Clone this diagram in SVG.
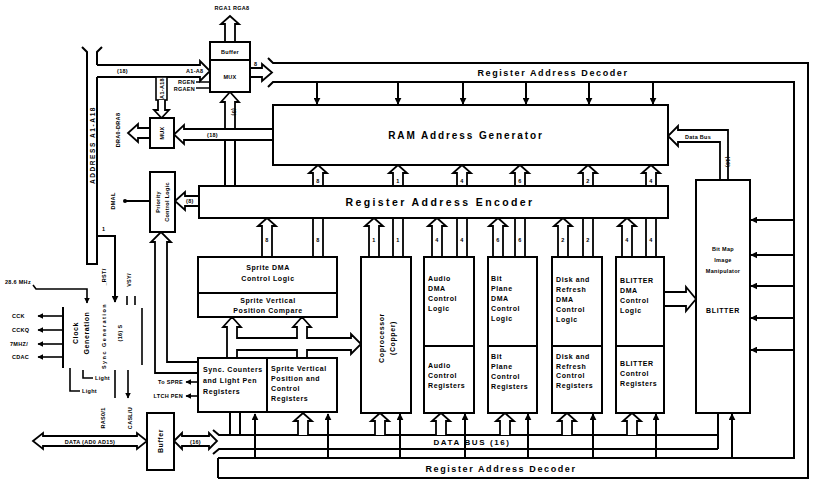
<svg xmlns="http://www.w3.org/2000/svg" width="814" height="481" viewBox="0 0 814 481">
<defs>
<style>
.bx{fill:#fff;stroke:#000;stroke-width:2}
.ln{fill:none;stroke:#000;stroke-width:2}
.ha{fill:#fff;stroke:#000;stroke-width:1.8}
.t{font-family:"Liberation Sans",Arial,sans-serif;font-weight:bold;fill:#000;font-size:7px;letter-spacing:0.6px}
.c{text-anchor:middle}
.e{text-anchor:end}
.big{font-size:10px;letter-spacing:1.6px}
.mid{font-size:9px;letter-spacing:1.6px}
.sm{font-size:5.5px;letter-spacing:0.3px}
</style>
<marker id="ah" viewBox="0 0 10 10" refX="9" refY="5" markerWidth="3.5" markerHeight="3.5" orient="auto-start-reverse"><path d="M0,0 L10,5 L0,10 z" fill="#000"/></marker>
</defs>
<rect width="814" height="481" fill="#fff"/>

<g id="connectors">
  <path class="ln" d="M268,58 L273,63 H808 V478 H218"/>
  <path class="ln" d="M268,87 L273,82 H794 V458 H218 M218,458 V478"/>
  <g class="ln" marker-end="url(#ah)">
    <path d="M317,82 V104"/><path d="M398,82 V104"/><path d="M463,82 V104"/>
    <path d="M526,82 V104"/><path d="M589,82 V104"/><path d="M653,82 V104"/>
  </g>
  <g class="ln" marker-end="url(#ah)">
    <path d="M794,220 H751"/><path d="M794,255 H751"/><path d="M794,286 H751"/>
    <path d="M794,318 H751"/><path d="M794,350 H751"/>
  </g>
  <path class="ln" d="M82,47 L87,52 V264 H97 V77 M97,65 V52 L102,47"/>
  <path class="ha" d="M97,65 H200 V61 L210,71 L200,81 V77 H97"/>
  <text class="t sm" x="117" y="73">(18)</text>
  <text class="t sm" x="186" y="73">A1-A8</text>
  <text class="t c" transform="translate(94.5,145) rotate(-90)" style="font-size:6.5px;letter-spacing:1.6px">ADDRESS A1-A18</text>
  <path class="ln" d="M97,236 H115 V302" marker-end="url(#ah)"/>
  <text class="t sm" x="102" y="231">1</text>
  <rect class="bx" x="156" y="77" width="11" height="23" style="stroke-width:1.6"/>
  <text class="t sm c" transform="translate(163.5,88.5) rotate(-90)">A1-A18</text>
  <path class="ha" d="M158,100 V110 H154 L161.5,118 L169,110 H165 V100"/>
  <path class="ha" d="M225,42 V24 H221 L230,16 L239,24 H235 V42"/>
  <text class="t sm c" x="232" y="10">RGA1 RGA8</text>
  <path class="ln" d="M196,82 H209" style="stroke-width:1.5"/>
  <path class="ln" d="M196,88 H209" style="stroke-width:1.5"/>
  <text class="t sm e" x="195" y="84">RGEN</text>
  <text class="t sm e" x="195" y="91">RGAEN</text>
  <path class="ha" d="M250,68 H262 V64 L272,72.5 L262,81 V77 H250"/>
  <text class="t sm" x="254" y="66">8</text>
  <path class="ha" d="M225,186 V102 H221 L230,92 L239,102 H235 V186"/>
  <path class="ha" d="M273,129 H184 V125 L174,134.5 L184,144 V140 H273"/>
  <path class="ln" d="M225,140 V186 M235,140 V186" />
  <text class="t sm" x="207" y="137">(18)</text>
  <text class="t sm c" transform="translate(232,112) rotate(90)">(8)</text>
  <path class="ha" d="M150,128 H138 V124 L128,133 L138,142 V138 H150"/>
  <text class="t sm c" transform="translate(120,130) rotate(-90)">DRA0-DRA8</text>
  <path class="ha" d="M199,196 H185 V192 L175,201 L185,210 V206 H199"/>
  <text class="t sm" x="186" y="203">(8)</text>
  <path class="ln" d="M150,201 H126"/>
  <circle cx="125" cy="201" r="2" fill="#000"/>
  <text class="t sm c" transform="translate(115,201) rotate(-90)">DMAL</text>
  <path class="ha" d="M198,362 H167 V242 H171 L161,232 L151,242 H155 V373 H198"/>
  <path class="ha" d="M313,186 V173 H309 L318,165 L327,173 H323 V186"/>
  <path class="ha" d="M393,186 V173 H389 L398,165 L407,173 H403 V186"/>
  <path class="ha" d="M457,186 V173 H453 L462,165 L471,173 H467 V186"/>
  <path class="ha" d="M515,186 V173 H511 L520,165 L529,173 H525 V186"/>
  <path class="ha" d="M583,186 V173 H579 L588,165 L597,173 H593 V186"/>
  <path class="ha" d="M646,186 V173 H642 L651,165 L660,173 H656 V186"/>
  <g class="t sm c">
    <text x="318" y="183">8</text><text x="398" y="183">1</text><text x="462" y="183">4</text>
    <text x="520" y="183">6</text><text x="588" y="183">2</text><text x="651" y="183">4</text>
  </g>
  <path class="ha" d="M262,257 V226 H258 L267,218 L276,226 H272 V257"/>
  <path class="ha" d="M369,257 V226 H365 L374,218 L383,226 H379 V257"/>
  <path class="ha" d="M432,257 V226 H428 L437,218 L446,226 H442 V257"/>
  <path class="ha" d="M493,257 V226 H489 L498,218 L507,226 H503 V257"/>
  <path class="ha" d="M558,257 V226 H554 L563,218 L572,226 H568 V257"/>
  <path class="ha" d="M622,257 V226 H618 L627,218 L636,226 H632 V257"/>
  <rect class="ha" x="313" y="218" width="10" height="39"/>
  <rect class="ha" x="393" y="218" width="10" height="39"/>
  <rect class="ha" x="457" y="218" width="10" height="39"/>
  <rect class="ha" x="515" y="218" width="10" height="39"/>
  <rect class="ha" x="583" y="218" width="10" height="39"/>
  <rect class="ha" x="646" y="218" width="10" height="39"/>
  <g class="t sm c">
    <text x="267" y="242">8</text><text x="318" y="242">8</text>
    <text x="374" y="242">1</text><text x="398" y="242">1</text>
    <text x="437" y="242">4</text><text x="462" y="242">4</text>
    <text x="498" y="242">6</text><text x="520" y="242">6</text>
    <text x="563" y="242">2</text><text x="588" y="242">2</text>
    <text x="627" y="242">4</text><text x="651" y="242">4</text>
  </g>
  <path class="ha" d="M227,358 V327 H223 L232,317 L241,327 H237 V338 H297 V327 H293 L302,317 L311,327 H307 V338 H351 V334 L361,344 L351,354 V350 H307 V358 H297 V350 H237 V358 Z"/>
  <path class="ha" d="M664,292 H686 V287 L696,299 L686,311 V306 H664"/>
  <path class="ha" d="M720,180 V142 H678 V146 L668,136 L678,126 V130 H728 V180"/>
  <text class="t sm c" x="698" y="139">Data Bus</text>
  <text class="t sm c" transform="translate(726,162) rotate(90)">(16)</text>
  <path class="ln" d="M198,382 H186" marker-end="url(#ah)" style="stroke-width:1.6"/>
  <path class="ln" d="M198,396 H186" marker-end="url(#ah)" style="stroke-width:1.6"/>
  <text class="t sm e" x="183" y="384">To SPRE</text>
  <text class="t sm e" x="183" y="398">LTCH PEN</text>
  <path class="ln" d="M213,430 L219,435 H718"/>
  <path class="ln" d="M213,454 L219,449 H718"/>
  <path class="ln" d="M718,413 V449"/>
  <text class="t mid c" x="472" y="445" style="font-size:8px">DATA BUS (16)</text>
  <path class="ln" d="M230,435 V413 M240,435 V413"/>
  <path class="ha" d="M298,435 V421 H294 L303,413 L312,421 H308 V435"/>
  <path class="ha" d="M375,435 V421 H371 L380,413 L389,421 H385 V435"/>
  <path class="ha" d="M436,435 V421 H432 L441,413 L450,421 H446 V435"/>
  <path class="ha" d="M500,435 V421 H496 L505,413 L514,421 H510 V435"/>
  <path class="ha" d="M562,435 V421 H558 L567,413 L576,421 H572 V435"/>
  <path class="ha" d="M627,435 V421 H623 L632,413 L641,421 H637 V435"/>
  <g class="ln" marker-end="url(#ah)">
    <path d="M255,458 V414"/><path d="M328,458 V414"/><path d="M400,458 V414"/>
    <path d="M465,458 V414"/><path d="M528,458 V414"/><path d="M593,458 V414"/>
    <path d="M656,458 V414"/><path d="M732,458 V414"/>
  </g>
  <path class="ha" d="M33,441 L43,433 V436 H137 V433 L147,441 L137,449 V446 H43 V449 Z"/>
  <text class="t sm c" x="90" y="443.5">DATA (AD0 AD15)</text>
  <path class="ha" d="M174,441 L182,433 V436 H209 V433 L217,441 L209,449 V446 H182 V449 Z"/>
  <text class="t sm c" x="195.5" y="443.5">(16)</text>
  <path class="ln" d="M63,307 V368"/>
  <g class="ln" marker-end="url(#ah)" style="stroke-width:1.6">
    <path d="M63,316 H38"/><path d="M63,330 H38"/><path d="M63,344 H38"/><path d="M63,357 H38"/>
  </g>
  <g class="t sm">
    <text x="12" y="318">CCK</text><text x="12" y="332">CCKQ</text>
    <text x="10" y="346">7MHZ/</text><text x="12" y="359">CDAC</text>
  </g>
  <path class="ln" d="M33,285 L36,289 H87 V303" marker-end="url(#ah)" style="stroke-width:1.6"/>
  <text class="t sm" x="5" y="284">28.6 MHz</text>
  <path class="ln" d="M70,368 V391 H80 M83,370 V378 H93" style="stroke-width:1.6"/>
  <text class="t sm" x="95" y="380">Light</text>
  <text class="t sm" x="82" y="393">Light</text>
  <path class="ln" d="M142,308 V365" style="stroke-width:1.6"/>
  <path class="ln" d="M127,296 V305 M135,296 V305" style="stroke-width:1.6"/>
  <text class="t sm c" transform="translate(106,277) rotate(-90)">_RST/</text>
  <text class="t sm c" transform="translate(131,280) rotate(-90)">VSY/</text>
  <text class="t sm c" transform="translate(106,336) rotate(-90)" style="letter-spacing:1.5px">Sync Generation</text>
  <text class="t sm c" transform="translate(122,333) rotate(-90)">(16) S</text>
  <path class="ln" d="M115,370 V398 M128,370 V398" marker-end="url(#ah)" style="stroke-width:1.6"/>
  <text class="t sm c" transform="translate(105,418) rotate(-90)">RAS0/1</text>
  <text class="t sm c" transform="translate(132,418) rotate(-90)">CASL/U</text>
</g>

<g id="buffer-mux">
  <rect class="bx" x="210" y="42" width="40" height="50"/>
  <path class="ln" d="M210,60 H250"/>
  <text class="t sm c" x="230" y="54">Buffer</text>
  <text class="t sm c" x="230" y="79">MUX</text>
</g>
<g id="mux2">
  <rect class="bx" x="150" y="118" width="24" height="30"/>
  <text class="t sm c" transform="translate(164,133) rotate(-90)">MUX</text>
</g>
<g id="priority">
  <rect class="bx" x="150" y="172" width="25" height="60"/>
  <text class="t sm c" transform="translate(160,202) rotate(-90)">Priority</text>
  <text class="t sm c" transform="translate(169,202) rotate(-90)">Control Logic</text>
</g>
<g id="ram-address-generator">
  <rect class="bx" x="273" y="105" width="395" height="60"/>
  <text class="t big c" x="466" y="139" style="letter-spacing:1.9px">RAM Address Generator</text>
</g>
<g id="register-address-encoder">
  <rect class="bx" x="199" y="186" width="469" height="32"/>
  <text class="t big c" x="440" y="206" style="font-size:10.5px;letter-spacing:2.4px">Register Address Encoder</text>
</g>
<g id="register-address-decoder">
  <text class="t mid c" x="553" y="76">Register Address Decoder</text>
  <text class="t mid c" x="501" y="472">Register Address Decoder</text>
</g>
<g id="sprite-dma">
  <rect class="bx" x="198" y="257" width="139" height="60"/>
  <path class="ln" d="M198,293 H337"/>
  <text class="t c" x="268" y="270">Sprite DMA</text>
  <text class="t c" x="268" y="281">Control Logic</text>
  <text class="t c" x="268" y="303">Sprite Vertical</text>
  <text class="t c" x="268" y="313">Position Compare</text>
</g>
<g id="sync-counters">
  <rect class="bx" x="198" y="358" width="139" height="54"/>
  <path class="ln" d="M267,358 V412"/>
  <text class="t" x="203" y="372">Sync. Counters</text>
  <text class="t" x="203" y="383">and Light Pen</text>
  <text class="t" x="203" y="394">Registers</text>
  <text class="t" x="271" y="371">Sprite Vertical</text>
  <text class="t" x="271" y="381">Position and</text>
  <text class="t" x="271" y="391">Control</text>
  <text class="t" x="271" y="401">Registers</text>
</g>
<g id="copper">
  <rect class="bx" x="361" y="257" width="50" height="156"/>
  <text class="t c" transform="translate(384,338) rotate(-90)">Coprocessor</text>
  <text class="t c" transform="translate(395,338) rotate(-90)">(Copper)</text>
</g>
<g id="audio">
  <rect class="bx" x="424" y="257" width="50" height="156"/>
  <path class="ln" d="M424,346 H474"/>
  <text class="t" x="428" y="281">Audio</text><text class="t" x="428" y="291">DMA</text>
  <text class="t" x="428" y="301">Control</text><text class="t" x="428" y="311">Logic</text>
  <text class="t" x="428" y="368">Audio</text><text class="t" x="428" y="378">Control</text>
  <text class="t" x="428" y="388">Registers</text>
</g>
<g id="bitplane">
  <rect class="bx" x="488" y="257" width="49" height="156"/>
  <path class="ln" d="M488,346 H537"/>
  <text class="t" x="491" y="281">Bit</text><text class="t" x="491" y="291">Plane</text>
  <text class="t" x="491" y="301">DMA</text><text class="t" x="491" y="311">Control</text>
  <text class="t" x="491" y="321">Logic</text>
  <text class="t" x="491" y="359">Bit</text><text class="t" x="491" y="369">Plane</text>
  <text class="t" x="491" y="379">Control</text><text class="t" x="491" y="389">Registers</text>
</g>
<g id="disk-refresh">
  <rect class="bx" x="552" y="257" width="50" height="156"/>
  <path class="ln" d="M552,346 H602"/>
  <text class="t" x="556" y="282">Disk and</text><text class="t" x="556" y="292">Refresh</text>
  <text class="t" x="556" y="302">DMA</text><text class="t" x="556" y="312">Control</text>
  <text class="t" x="556" y="322">Logic</text>
  <text class="t" x="556" y="359">Disk and</text><text class="t" x="556" y="369">Refresh</text>
  <text class="t" x="556" y="378">Control</text><text class="t" x="556" y="388">Registers</text>
</g>
<g id="blitter-dma">
  <rect class="bx" x="616" y="257" width="48" height="156"/>
  <path class="ln" d="M616,346 H664"/>
  <text class="t" x="620" y="283">BLITTER</text><text class="t" x="620" y="293">DMA</text>
  <text class="t" x="620" y="303">Control</text><text class="t" x="620" y="313">Logic</text>
  <text class="t" x="620" y="366">BLITTER</text><text class="t" x="620" y="376">Control</text>
  <text class="t" x="620" y="386">Registers</text>
</g>
<g id="bit-map-manipulator">
  <rect class="bx" x="696" y="180" width="54" height="233"/>
  <text class="t sm c" x="723" y="251">Bit Map</text>
  <text class="t sm c" x="723" y="262">Image</text>
  <text class="t sm c" x="723" y="273">Manipulator</text>
  <text class="t c" x="723" y="313">BLITTER</text>
</g>
<g id="clock-generation">
  <text class="t c" transform="translate(78,333) rotate(-90)">Clock</text>
  <text class="t c" transform="translate(89,333) rotate(-90)">Generation</text>
</g>
<g id="buffer-data">
  <rect class="bx" x="147" y="413" width="27" height="57"/>
  <text class="t c" transform="translate(163,441) rotate(-90)">Buffer</text>
</g>
</svg>
